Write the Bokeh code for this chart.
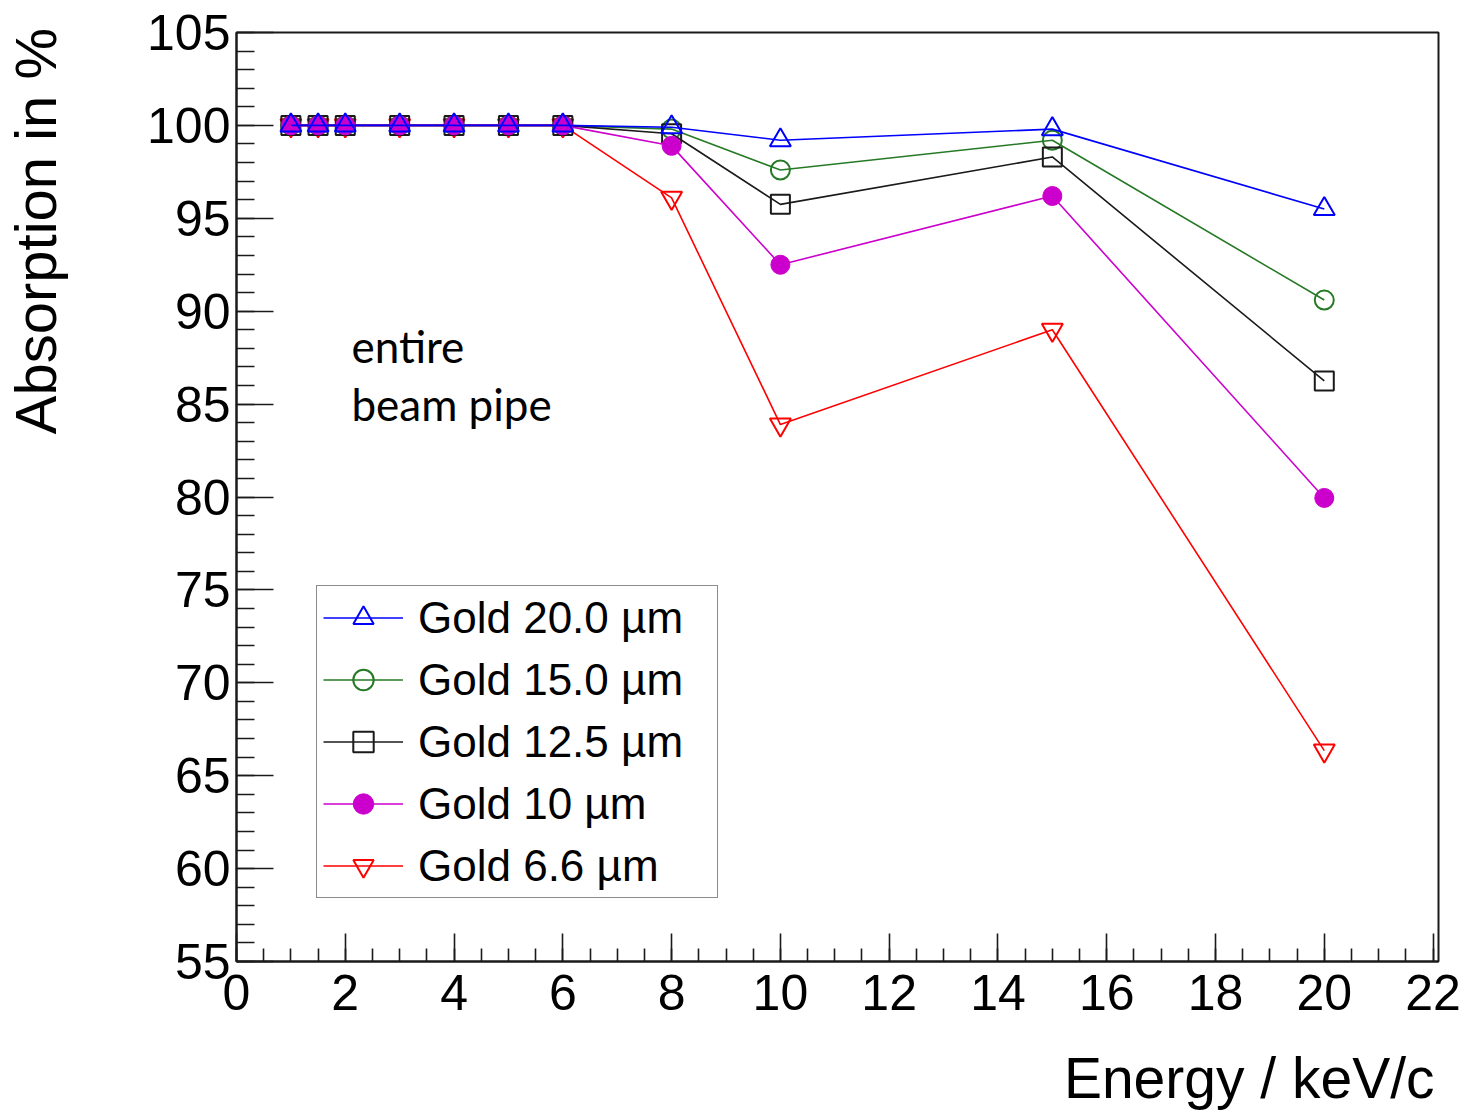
from bokeh.plotting import figure
from bokeh.models import Range1d, FixedTicker, Label, Legend, LegendItem
from bokeh.embed import file_html
from bokeh.resources import INLINE

# ---------------- data ----------------
energy = [1, 1.5, 2, 3, 4, 5, 6, 8, 10, 15, 20]
gold_20_0 = [100, 100, 100, 100, 100, 100, 100, 99.9, 99.2, 99.8, 95.5]
gold_15_0 = [100, 100, 100, 100, 100, 100, 100, 99.8, 97.6, 99.2, 90.6]
gold_12_5 = [100, 100, 100, 100, 100, 100, 100, 99.55, 95.75, 98.3, 86.25]
gold_10_0 = [100, 100, 100, 100, 100, 100, 100, 98.9, 92.5, 96.2, 79.95]
gold_6_6 = [100, 100, 100, 100, 100, 100, 100, 96.1, 83.9, 89.0, 66.35]

series_labels = ["Gold 20.0 µm", "Gold 15.0 µm", "Gold 12.5 µm", "Gold 10 µm", "Gold 6.6 µm"]
x_major = [0, 2, 4, 6, 8, 10, 12, 14, 16, 18, 20, 22]
y_major = [55, 60, 65, 70, 75, 80, 85, 90, 95, 100, 105]
x_title = "Energy / keV/c"
y_title = "Absorption in %"

# ---------------- layout ----------------
W, H = 1464, 1115
FL, FR, FT, FB = 235, 1438, 32, 961
XMAX = 22.1
YMIN, YMAX = 55, 105


def dx(px):
    return (px - FL) / (FR - FL) * XMAX


def dy(py):
    return YMIN + (FB - py) / (FB - FT) * (YMAX - YMIN)


FONT = "Liberation Sans"
AX = "#1a1a1a"
NBSP = "\u00a0"

p = figure(width=W, height=H, x_range=Range1d(0, XMAX), y_range=Range1d(YMIN, YMAX),
           output_backend="svg", toolbar_location=None, title=None,
           min_border_left=FL, min_border_right=W - FR, min_border_top=FT,
           min_border_bottom=H - FB)
p.background_fill_color = "white"
p.border_fill_color = "white"
p.outline_line_color = AX
p.outline_line_width = 2
p.xgrid.visible = False
p.ygrid.visible = False

minor_x = [i * 0.5 for i in range(0, 45)]
minor_y = list(range(55, 106))
p.xaxis.ticker = FixedTicker(ticks=x_major, minor_ticks=minor_x)
p.yaxis.ticker = FixedTicker(ticks=y_major, minor_ticks=minor_y)

for ax in (p.xaxis[0], p.yaxis[0]):
    ax.axis_line_color = AX
    ax.axis_line_width = 2
    ax.major_tick_line_color = AX
    ax.minor_tick_line_color = AX
    ax.major_tick_line_width = 1.6
    ax.minor_tick_line_width = 1.6
    ax.major_tick_out = 0
    ax.minor_tick_out = 0
    ax.major_label_text_font = FONT
    ax.major_label_text_font_size = "50px"
    ax.major_label_text_color = "black"
    ax.axis_label_text_font = FONT
    ax.axis_label_text_font_style = "normal"
    ax.axis_label_text_color = "black"

p.yaxis.major_tick_in = 37
p.yaxis.minor_tick_in = 18
p.yaxis.major_label_standoff = 6
p.xaxis.major_tick_in = 28
p.xaxis.minor_tick_in = 13
p.xaxis.major_label_standoff = 13

# titles are centred on their axis; leading no-break spaces push the visible
# words towards the far end, as in the ROOT original
p.yaxis.axis_label = NBSP * 33 + y_title
p.yaxis.axis_label_text_font_size = "58px"
p.yaxis.axis_label_standoff = 76
p.xaxis.axis_label = NBSP * 52 + x_title
p.xaxis.axis_label_text_font_size = "57px"
p.xaxis.axis_label_standoff = 33

# ---------------- series ----------------
styles = {
    "g20": dict(y=gold_20_0, color="#0000ff", marker="triangle", fill=None, size=21),
    "g15": dict(y=gold_15_0, color="#267a26", marker="circle", fill=None, size=19),
    "g125": dict(y=gold_12_5, color="#1a1a1a", marker="square", fill=None, size=19),
    "g10": dict(y=gold_10_0, color="#cc00cc", marker="circle", fill="#cc00cc", size=19),
    "g66": dict(y=gold_6_6, color="#ff0000", marker="inverted_triangle", fill=None, size=21),
}

renderers = {}
for key in ["g66", "g15", "g125", "g10", "g20"]:
    s = styles[key]
    ln = p.line(energy, s["y"], line_color=s["color"], line_width=1.6)
    if s["fill"] is None:
        sc = p.scatter(energy, s["y"], marker=s["marker"], size=s["size"],
                       line_color=s["color"], line_width=2, fill_alpha=0)
    else:
        sc = p.scatter(energy, s["y"], marker=s["marker"], size=s["size"],
                       line_color=s["color"], line_width=1, fill_color=s["fill"])
    renderers[key] = [ln, sc]

items = [LegendItem(label=lab, renderers=renderers[k])
         for lab, k in zip(series_labels, ["g20", "g15", "g125", "g10", "g66"])]
legend = Legend(items=items, location=(315 - FL, FB - 898), orientation="vertical")
legend.label_text_font = FONT
legend.label_text_font_size = "44px"
legend.label_text_color = "black"
legend.glyph_width = 80
legend.glyph_height = 51
legend.label_height = 51
legend.label_width = 293
legend.label_standoff = 15
legend.padding = 6
legend.spacing = 11
legend.margin = 0
legend.border_line_color = AX
legend.border_line_width = 1.6
legend.background_fill_color = "white"
legend.background_fill_alpha = 1
p.add_layout(legend, "center")

# ---------------- texts ----------------
p.add_layout(Label(x=dx(350), y=dy(345), text="entire", text_font="Lato",
                   text_font_size="44px", text_color="black", text_baseline="alphabetic"))
p.add_layout(Label(x=dx(350), y=dy(403), text="beam pipe", text_font="Lato",
                   text_font_size="44px", text_color="black", text_baseline="alphabetic"))

open("out.html", "w").write(file_html(p, INLINE))
